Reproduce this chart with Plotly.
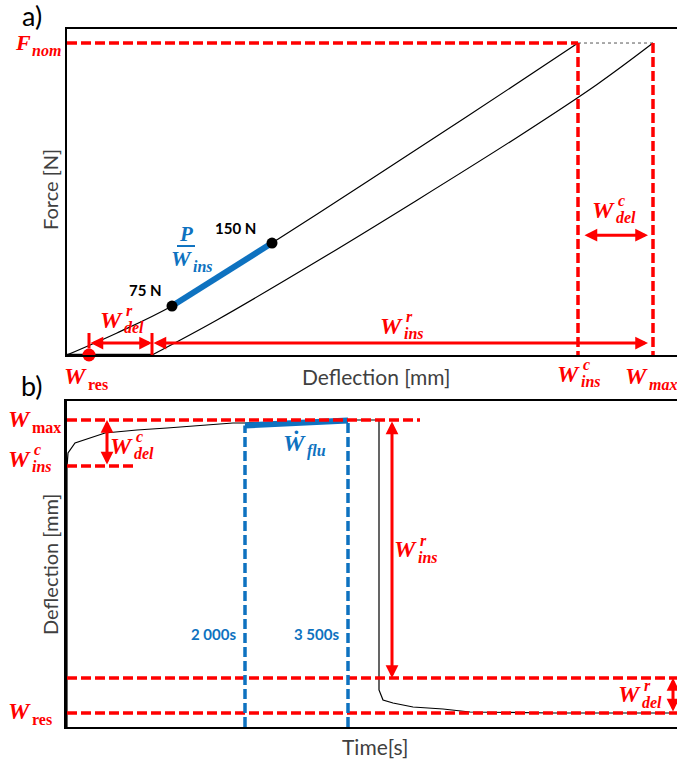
import plotly.graph_objects as go

# ---------------- data : panel a (force vs deflection) ----------------
load_defl = [0, 0.5, 1.05, 2.05, 3.0, 4.0, 5.11]
load_force = [0, 27, 60.1, 137.4, 212.5, 292.5, 382.8]
unload_defl = [0.85, 1.5, 2.5, 3.5, 4.5, 5.3, 5.86]
unload_force = [0, 43, 115, 190, 267, 332, 382.8]
base_defl = [0, 0.85]
base_force = [0, 0]
F_nom = 382.8
W_res_a = 0.22
W_res_end = 0.85
W_ins_c_a = 5.11
W_max_a = 5.86
slope_defl = [1.05, 2.05]
slope_force = [60.1, 137.4]
slope_labels = ["75 N", "150 N"]

# ---------------- data : panel b (deflection vs time) ----------------
time_s = [0, 0, 10, 80, 380, 700, 1000, 1360, 1660, 1780, 2810, 3120, 3120,
          3160, 3260, 3460, 3760, 4030, 4860, 6100]
defl_b = [0, 5.2, 5.48, 5.68, 5.88, 5.94, 5.98, 6.04, 6.08, 6.08, 6.14, 6.14,
          0.74, 0.54, 0.48, 0.40, 0.36, 0.30, 0.28, 0.28]
flu_t = [1780, 2810]
flu_w = [6.03, 6.13]
Wmax_b = 6.14
Wins_c_b = 5.22
Wres_up_b = 0.98
Wres_b = 0.28
t_marks = [1780, 2810]
t_mark_labels = ["2 000s", "3 500s"]
T_END = 6100

RED = "#FF0000"
BLUE = "#0E72C0"
SERIF = "Liberation Serif, DejaVu Serif, serif"
SANS = "Lato, Open Sans, sans-serif"
DASH = "10px,4px"
W, H = 677, 760

AX = {
    "x": ([67 / W, 1.0], [0, 6.1]),
    "y": ([(H - 355) / H, (H - 29) / H], [0, 400]),
    "x2": ([67 / W, 1.0], [0, T_END]),
    "y2": ([(H - 727) / H, (H - 401) / H], [0, 6.52]),
}

def to_paper(ax, v):
    (d0, d1), (r0, r1) = AX[ax]
    return d0 + (v - r0) / (r1 - r0) * (d1 - d0)

fig = go.Figure()

def line(x, y, xa, ya, color="black", width=1.2, dash=None, shape="linear"):
    fig.add_trace(go.Scatter(x=x, y=y, xaxis=xa, yaxis=ya, mode="lines",
                             line=dict(color=color, width=width, dash=dash, shape=shape),
                             hoverinfo="skip", showlegend=False))

# ----- panel a traces -----
line(load_defl, load_force, "x", "y", shape="spline")
line(unload_defl, unload_force, "x", "y", shape="spline")
line(base_defl, base_force, "x", "y", width=2.5)
line([W_ins_c_a, W_max_a], [F_nom, F_nom], "x", "y", color="#555", width=1, dash="dot")
line([0, W_ins_c_a], [F_nom, F_nom], "x", "y", color=RED, width=3.5, dash=DASH)
line([W_ins_c_a, W_ins_c_a], [F_nom, 0], "x", "y", color=RED, width=3.5, dash=DASH)
line([W_max_a, W_max_a], [F_nom, 0], "x", "y", color=RED, width=3.5, dash=DASH)
line([W_res_a, W_res_a], [27, 8], "x", "y", color=RED, width=3)
line([W_res_end, W_res_end], [27, 0], "x", "y", color=RED, width=3)
line(slope_defl, slope_force, "x", "y", color=BLUE, width=6)
fig.add_trace(go.Scatter(x=slope_defl, y=slope_force, xaxis="x", yaxis="y", mode="markers",
                         marker=dict(color="black", size=11), hoverinfo="skip", showlegend=False))
fig.add_trace(go.Scatter(x=[W_res_a], y=[0], xaxis="x", yaxis="y", mode="markers",
                         marker=dict(color=RED, size=13), cliponaxis=False,
                         hoverinfo="skip", showlegend=False))

# ----- panel b traces -----
line(time_s, defl_b, "x2", "y2")
line(flu_t, flu_w, "x2", "y2", color=BLUE, width=6)
line([0, 3530], [Wmax_b, Wmax_b], "x2", "y2", color=RED, width=3.5, dash=DASH)
line([0, 680], [Wins_c_b, Wins_c_b], "x2", "y2", color=RED, width=3.5, dash=DASH)
line([0, T_END], [Wres_up_b, Wres_up_b], "x2", "y2", color=RED, width=3.5, dash=DASH)
line([0, T_END], [Wres_b, Wres_b], "x2", "y2", color=RED, width=3.5, dash=DASH)
line([t_marks[0], t_marks[0]], [0, flu_w[0]], "x2", "y2", color=BLUE, width=3.5, dash=DASH)
line([t_marks[1], t_marks[1]], [0, Wmax_b], "x2", "y2", color=BLUE, width=3.5, dash=DASH)

ann = []

def arrow(xa, ya, x0, y0, x1, y1, both=True):
    ann.append(dict(xref=xa, yref=ya, axref=xa, ayref=ya, x=x1, y=y1, ax=x0, ay=y0,
                    text="", showarrow=True, arrowhead=2, startarrowhead=2,
                    arrowside="end+start" if both else "end", arrowsize=0.85,
                    startarrowsize=0.85, arrowwidth=3, arrowcolor=RED))

def wlabel(xa, ya, x, y, main, sup=None, sub=None, color=RED, upright=False,
           size=24, ssize=16, dx=0):
    px, py = to_paper(xa, x), to_paper(ya, y)
    base = dict(xref="paper", yref="paper", x=px, y=py, showarrow=False, yanchor="middle")
    ann.append(dict(base, xshift=dx, text=f"<b><i>{main}</i></b>", xanchor="right",
                    font=dict(family=SERIF, size=size, color=color)))
    if sup:
        ann.append(dict(base, xshift=dx - 1, yshift=9, text=f"<b><i>{sup}</i></b>",
                        xanchor="left", font=dict(family=SERIF, size=ssize, color=color)))
    if sub:
        t = f"<b>{sub}</b>" if upright else f"<b><i>{sub}</i></b>"
        ann.append(dict(base, xshift=dx - 3, yshift=-8, text=t, xanchor="left",
                        font=dict(family=SERIF, size=ssize, color=color)))

# panel a arrows
arrow("x", "y", W_res_a, 14.7, W_res_end, 14.7)
arrow("x", "y", W_res_end, 14.7, 5.81, 14.7)
arrow("x", "y", 5.16, 147, 5.81, 147)
# panel b arrows
arrow("x2", "y2", 400, Wins_c_b, 400, Wmax_b)
arrow("x2", "y2", 3250, Wmax_b, 3250, Wres_up_b)
arrow("x2", "y2", 6060, Wres_b, 6060, Wres_up_b)

# panel a labels
wlabel("x", "y", -0.34, 383, "F", sub="nom", size=22)
wlabel("x", "y", 0.58, 43, "W", sup="r", sub="del")
wlabel("x", "y", 3.38, 35.6, "W", sup="r", sub="ins")
wlabel("x", "y", 5.50, 178, "W", sup="c", sub="del")
wlabel("x", "y", 5.15, -23, "W", sup="c", sub="ins")
wlabel("x", "y", 5.83, -26, "W", sub="max")
wlabel("x", "y", 0.22, -26, "W", sub="res", upright=True)
ann.append(dict(xref="x", yref="y", x=0.78, y=80, text="<b>" + slope_labels[0] + "</b>",
                showarrow=False, font=dict(family=SANS, size=15, color="black")))
ann.append(dict(xref="x", yref="y", x=1.68, y=156, text="<b>" + slope_labels[1] + "</b>",
                showarrow=False, font=dict(family=SANS, size=15, color="black")))
ann.append(dict(xref="x", yref="y", x=1.19, y=148.5, text="<b><i>P</i></b>",
                showarrow=False, font=dict(family=SERIF, size=21, color=BLUE)))
wlabel("x", "y", 1.27, 117.8, "W", sub="ins", color=BLUE, size=22, ssize=16)

# panel b labels
wlabel("x2", "y2", -340, 6.16, "W", sub="max", upright=True)
wlabel("x2", "y2", -340, 5.36, "W", sup="c", sub="ins")
wlabel("x2", "y2", -340, 0.32, "W", sub="res", upright=True)
wlabel("x2", "y2", 680, 5.62, "W", sup="c", sub="del")
wlabel("x2", "y2", 3520, 3.56, "W", sup="r", sub="ins")
wlabel("x2", "y2", 5760, 0.66, "W", sup="r", sub="del")
wlabel("x2", "y2", 2390, 5.68, "Ẇ", sub="flu", color=BLUE, dx=2)
for t, lab in zip(t_marks, t_mark_labels):
    ann.append(dict(xref="x2", yref="y2", x=t - 320, y=1.86, text="<b>" + lab + "</b>",
                    showarrow=False, font=dict(family=SANS, size=15, color=BLUE)))

# titles / panel letters
def pann(px, py, text, size, color="#404040", angle=0):
    ann.append(dict(xref="paper", yref="paper", x=px / W, y=1 - py / H, text=text,
                    showarrow=False, textangle=angle, xanchor="center", yanchor="middle",
                    font=dict(family=SANS, size=size, color=color)))

pann(32, 15, "a)", 27, "black")
pann(32, 385, "b)", 27, "black")
pann(50, 190, "Force [N]", 20, angle=-90)
pann(376, 376, "Deflection [mm]", 21)
pann(50, 565, "Deflection [mm]", 20, angle=-90)
pann(375, 746, "Time[s]", 21)

fig.add_shape(type="line", xref="x", yref="y", x0=1.10, x1=1.28, y0=133.7, y1=133.7,
              line=dict(color=BLUE, width=2))

ax_common = dict(showgrid=False, zeroline=False, showticklabels=False, ticks="",
                 showline=True, linecolor="black")
fig.update_layout(
    width=W, height=H, margin=dict(l=0, r=0, t=0, b=0),
    paper_bgcolor="white", plot_bgcolor="white", showlegend=False,
    xaxis=dict(ax_common, domain=AX["x"][0], range=AX["x"][1], anchor="y", mirror=True, linewidth=1.5),
    yaxis=dict(ax_common, domain=AX["y"][0], range=AX["y"][1], anchor="x", linewidth=1.5),
    xaxis2=dict(ax_common, domain=AX["x2"][0], range=AX["x2"][1], anchor="y2", mirror=True, linewidth=1.5),
    yaxis2=dict(ax_common, domain=AX["y2"][0], range=AX["y2"][1], anchor="x2", linewidth=2.5),
    annotations=ann,
)
fig.write_html("out.html", config={"displayModeBar": False})

# remove default page margin so the figure sits at the window's top-left corner
with open("out.html", encoding="utf-8") as f:
    html = f.read()
html = html.replace("<head>", "<head><style>html,body{margin:0;padding:0;overflow:hidden}</style>", 1)
with open("out.html", "w", encoding="utf-8") as f:
    f.write(html)
